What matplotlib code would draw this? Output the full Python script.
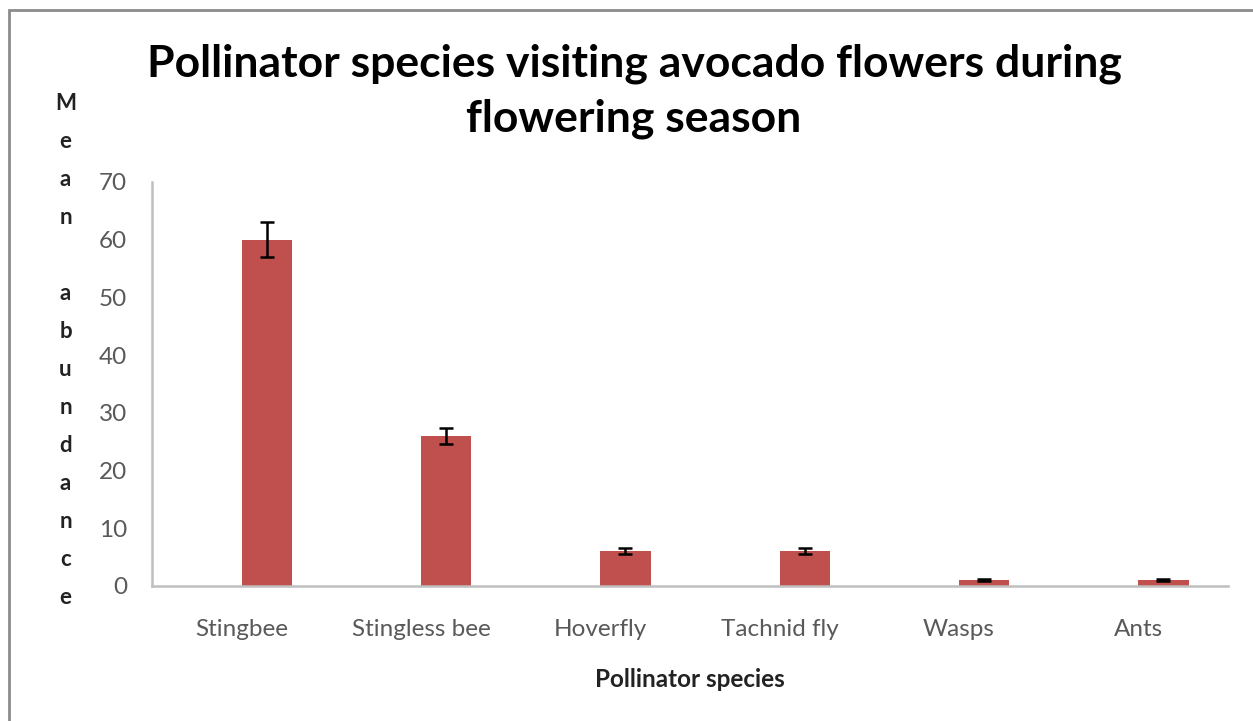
import matplotlib.pyplot as plt
import numpy as np
from matplotlib.patches import Rectangle

plt.rcParams['font.family'] = ['Lato', 'DejaVu Sans']

# данные
species = ['Stingbee', 'Stingless bee', 'Hoverfly', 'Tachnid fly', 'Wasps', 'Ants']
abundance = [60, 26, 6, 6, 1, 1]
errors = [3, 1.4, 0.5, 0.5, 0.2, 0.2]

fig = plt.figure(figsize=(12.53, 7.21), dpi=100)
ax = fig.add_axes([152 / 1253, 1 - 586 / 721, (1228 - 152) / 1253, (586 - 182) / 721])

x = np.arange(len(species))
bar_w = 0.28
ax.bar(x + bar_w / 2, abundance, width=bar_w, color='#C0504D', zorder=2)
ax.errorbar(x + bar_w / 2, abundance, yerr=errors, fmt='none', ecolor='black',
            elinewidth=1.8, capsize=5, capthick=1.8, zorder=3)

ax.set_xlim(-0.5, len(species) - 0.5)
ax.set_ylim(0, 70)
ax.set_yticks(range(0, 71, 10))
ax.set_xticks(x)
ax.set_xticklabels(species)
ax.tick_params(axis='both', length=0, labelsize=17.5, colors='#595959', pad=18)
ax.tick_params(axis='x', pad=24)

for side in ['top', 'right']:
    ax.spines[side].set_visible(False)
for side in ['left', 'bottom']:
    ax.spines[side].set_color('#BFBFBF')
    ax.spines[side].set_linewidth(1.8)

ax.set_xlabel('Pollinator species', fontsize=17.5, fontweight='bold', color='#222222', labelpad=20)

# заголовок
fig.text(634 / 1253, 1 - 91 / 721, 'Pollinator species visiting avocado flowers during\nflowering season',
         ha='center', va='center', fontsize=32, fontweight='bold', linespacing=1.45)

# подпись оси y по буквам
fig.text(65.5 / 1253, 1 - 350 / 721, '\n'.join('Mean abundance'), ha='center', va='center',
         fontsize=16, fontweight='bold', color='#222222', linespacing=2.0)

# рамка вокруг рисунка
fig.patches.append(Rectangle((9 / 1253, -0.1), 1.2, 1 - 10 / 721 + 0.1, transform=fig.transFigure,
                             fill=False, edgecolor='#8C8C8C', linewidth=2))

fig.savefig('out.png', dpi=100)
